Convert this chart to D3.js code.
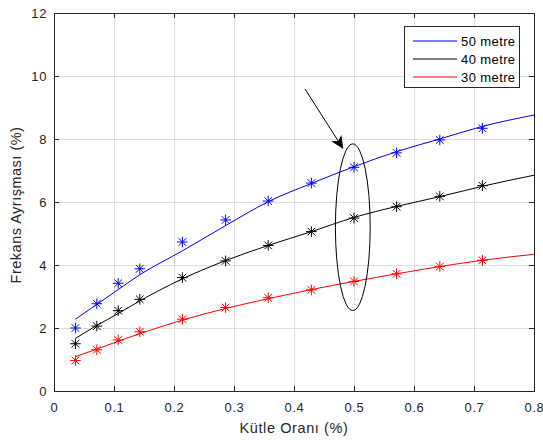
<!DOCTYPE html>
<html>
<head>
<meta charset="utf-8">
<script src="https://cdn.jsdelivr.net/npm/d3@7"></script>
<style>
  html, body { margin: 0; padding: 0; background: #fff; }
  svg { display: block; font-family: "Liberation Sans", Arial, Helvetica, sans-serif; }
</style>
</head>
<body>
<svg id="chart" width="543" height="440"></svg>
<script>
// Measured mass ratios (%) and frequency shifts (%) for three heights
const massRatio = [0.0357, 0.0714, 0.107, 0.143, 0.214, 0.286, 0.357, 0.429, 0.5, 0.571, 0.643, 0.714];
const shift50 = [2.0, 2.77, 3.42, 3.88, 4.73, 5.43, 6.03, 6.6, 7.1, 7.56, 7.97, 8.34];
const shift40 = [1.5, 2.06, 2.55, 2.91, 3.6, 4.13, 4.62, 5.06, 5.49, 5.85, 6.18, 6.52];
const shift30 = [0.97, 1.31, 1.62, 1.88, 2.28, 2.65, 2.96, 3.21, 3.48, 3.72, 3.95, 4.15];

// Fitted trend curves
const fitRatio = [0.0357, 0.0714, 0.107, 0.143, 0.214, 0.286, 0.357, 0.429, 0.5, 0.571, 0.643, 0.714, 0.8];
const fit50 = [2.28, 2.75, 3.22, 3.69, 4.45, 5.25, 6.01, 6.59, 7.12, 7.6, 8.0, 8.4, 8.76];
const fit40 = [1.67, 2.08, 2.46, 2.86, 3.56, 4.14, 4.62, 5.06, 5.51, 5.86, 6.17, 6.5, 6.85];
const fit30 = [1.09, 1.33, 1.58, 1.82, 2.25, 2.62, 2.93, 3.22, 3.48, 3.72, 3.95, 4.15, 4.34];

const seriesNames = ["50 metre", "40 metre", "30 metre"];
const seriesColors = ["#0000ff", "#000000", "#ff0000"];

const xTicks = [0, 0.1, 0.2, 0.3, 0.4, 0.5, 0.6, 0.7, 0.8];
const yTicks = [0, 2, 4, 6, 8, 10, 12];

// Highlighted group at mass ratio 0.5 (ellipse) and the arrow pointing to it
const ellipseSpec = { cx: 0.498, cy: 5.2, rx: 0.029, ry: 2.645 };
const arrowFrom = [0.4183, 9.59];
const arrowTo = [0.4822, 7.68];

const svg = d3.select("#chart");
const plotLeft = 54, plotRight = 534, plotTop = 13, plotBottom = 391;

const x = d3.scaleLinear().domain([0, 0.8]).range([plotLeft, plotRight]);
const y = d3.scaleLinear().domain([0, 12]).range([plotBottom, plotTop]);

const axisColor = "#262626";
const gridColor = "#dedede";

// Grid
const grid = svg.append("g");
grid.selectAll("line.gx").data(xTicks.slice(1, -1)).join("line")
  .attr("x1", d => x(d)).attr("x2", d => x(d))
  .attr("y1", plotTop).attr("y2", plotBottom)
  .attr("stroke", gridColor).attr("stroke-width", 1).attr("shape-rendering", "crispEdges");
grid.selectAll("line.gy").data(yTicks.slice(1, -1)).join("line")
  .attr("y1", d => y(d)).attr("y2", d => y(d))
  .attr("x1", plotLeft).attr("x2", plotRight)
  .attr("stroke", gridColor).attr("stroke-width", 1).attr("shape-rendering", "crispEdges");

// Axes with inward ticks on all four sides
function styleAxis(g) {
  g.selectAll("path.domain").attr("stroke", axisColor).attr("shape-rendering", "crispEdges");
  g.selectAll(".tick line").attr("stroke", axisColor).attr("shape-rendering", "crispEdges");
  g.selectAll(".tick text").attr("fill", axisColor).attr("font-size", 13).attr("letter-spacing", 0.6);
}
const fmt = d => d === 0 ? "0" : d3.format(".1f")(d);

svg.append("g").attr("transform", `translate(0,${plotBottom})`)
  .call(d3.axisBottom(x).tickValues(xTicks).tickFormat(fmt).tickSizeInner(-5).tickSizeOuter(0).tickPadding(11.5))
  .call(styleAxis);
svg.append("g").attr("transform", `translate(0,${plotTop})`)
  .call(d3.axisTop(x).tickValues(xTicks).tickFormat("").tickSizeInner(-5).tickSizeOuter(0))
  .call(styleAxis);
svg.append("g").attr("transform", `translate(${plotLeft},0)`)
  .call(d3.axisLeft(y).tickValues(yTicks).tickFormat(d3.format("d")).tickSizeInner(-5).tickSizeOuter(0).tickPadding(7))
  .call(styleAxis);
svg.append("g").attr("transform", `translate(${plotRight},0)`)
  .call(d3.axisRight(y).tickValues(yTicks).tickFormat("").tickSizeInner(-5).tickSizeOuter(0))
  .call(styleAxis);

// Axis titles
svg.append("text")
  .attr("x", (plotLeft + plotRight) / 2).attr("y", 433)
  .attr("text-anchor", "middle").attr("font-size", 14.5).attr("letter-spacing", 0.6).attr("fill", axisColor)
  .text("Kütle Oranı (%)");
svg.append("text")
  .attr("transform", `translate(21,205) rotate(-90)`)
  .attr("text-anchor", "middle").attr("font-size", 14.5).attr("letter-spacing", 0.5).attr("fill", axisColor)
  .text("Frekans Ayrışması (%)");

// Fitted curves
const line = d3.line().x(d => x(d[0])).y(d => y(d[1])).curve(d3.curveMonotoneX);
const fits = [fit50, fit40, fit30];
const pts = [shift50, shift40, shift30];
const plot = svg.append("g");
fits.forEach((f, i) => {
  plot.append("path")
    .datum(fitRatio.map((r, k) => [r, f[k]]))
    .attr("d", line)
    .attr("fill", "none").attr("stroke", seriesColors[i]).attr("stroke-width", 1);
});

// Asterisk markers
const m = 5.3;
const starPath = `M${-m},0L${m},0M0,${-m}L0,${m}M${-m * 0.72},${-m * 0.72}L${m * 0.72},${m * 0.72}M${-m * 0.72},${m * 0.72}L${m * 0.72},${-m * 0.72}`;
pts.forEach((p, i) => {
  plot.append("g").selectAll("path")
    .data(massRatio.map((r, k) => [r, p[k]]))
    .join("path")
    .attr("transform", d => `translate(${x(d[0])},${y(d[1])})`)
    .attr("d", starPath)
    .attr("fill", "none").attr("stroke", seriesColors[i]).attr("stroke-width", 1);
});

// Ellipse around the 0.5 group
svg.append("ellipse")
  .attr("cx", x(ellipseSpec.cx)).attr("cy", y(ellipseSpec.cy))
  .attr("rx", x(ellipseSpec.rx) - x(0)).attr("ry", y(0) - y(ellipseSpec.ry))
  .attr("fill", "none").attr("stroke", "#000").attr("stroke-width", 1);

// Arrow
const ax0 = x(arrowFrom[0]), ay0 = y(arrowFrom[1]);
const ax1 = x(arrowTo[0]), ay1 = y(arrowTo[1]);
const ang = Math.atan2(ay1 - ay0, ax1 - ax0);
const headLen = 13, headW = 6, back = 3.5;
svg.append("line")
  .attr("x1", ax0).attr("y1", ay0)
  .attr("x2", ax1 - Math.cos(ang) * 8).attr("y2", ay1 - Math.sin(ang) * 8)
  .attr("stroke", "#000").attr("stroke-width", 1);
svg.append("path")
  .attr("transform", `translate(${ax1},${ay1}) rotate(${ang * 180 / Math.PI})`)
  .attr("d", `M0,0L${-headLen},${-headW}L${-headLen + back},0L${-headLen},${headW}Z`)
  .attr("fill", "#000");

// Legend
const lg = svg.append("g");
lg.append("rect")
  .attr("x", 404.5).attr("y", 26.5).attr("width", 115).attr("height", 61)
  .attr("fill", "#fff").attr("stroke", axisColor).attr("stroke-width", 1);
seriesNames.forEach((name, i) => {
  const ry = 41 + i * 18;
  lg.append("line")
    .attr("x1", 413).attr("x2", 457).attr("y1", ry).attr("y2", ry)
    .attr("stroke", seriesColors[i]).attr("stroke-width", 1);
  lg.append("text")
    .attr("x", 461).attr("y", ry + 4.5)
    .attr("font-size", 13).attr("letter-spacing", 0.4).attr("fill", "#000")
    .text(name);
});
</script>
</body>
</html>
